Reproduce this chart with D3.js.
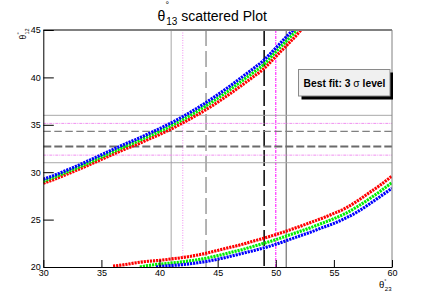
<!DOCTYPE html>
<html><head><meta charset="utf-8">
<script src="https://cdn.jsdelivr.net/npm/d3@7"></script>
<style>body{margin:0;background:#fff}svg{display:block;font-family:"Liberation Sans",Arial,Helvetica,sans-serif}</style>
</head><body><svg id="c" width="436" height="297"></svg>
<script>
// ---- data ----
const xTicks = [30,35,40,45,50,55,60];
const yTicks = [20,25,30,35,40,45];
const vLines = [41,42,44,49,50,50.9];
const hLines = [36,35.15,34.3,32.7,31.8,31];

const upperRed = [[30,28.82],[31,29.27],[32,29.77],[33,30.27],[34,30.8],[35,31.35],[36,31.88],[37,32.42],[38,32.9],[39,33.44],[40,33.98],[41,34.56],[42,35.2],[43,35.88],[44,36.6],[45,37.38],[46,38.22],[47,39.1],[48,40.0],[49,40.95],[50,42.2],[51,43.45],[52,44.75],[52.3,45.2]];
const upperGreen = [[30,29.05],[31,29.5],[32,30.0],[33,30.5],[34,31.05],[35,31.6],[36,32.15],[37,32.7],[38,33.2],[39,33.75],[40,34.3],[41,34.9],[42,35.55],[43,36.25],[44,37.0],[45,37.8],[46,38.65],[47,39.55],[48,40.45],[49,41.4],[50,42.7],[51,43.95],[51.9,45.1]];
const upperBlue = [[30,29.25],[31,29.7],[32,30.2],[33,30.72],[34,31.28],[35,31.84],[36,32.4],[37,32.96],[38,33.47],[39,34.03],[40,34.6],[41,35.2],[42,35.87],[43,36.58],[44,37.35],[45,38.17],[46,39.03],[47,39.95],[48,40.87],[49,41.85],[50,43.1],[51,44.4],[51.6,45.1]];

const lowerRed = [[36,20.1],[37,20.25],[38,20.45],[39,20.6],[40,20.7],[41,20.85],[42,21.0],[43,21.2],[44,21.45],[45,21.75],[46,22.05],[47,22.35],[48,22.7],[49,23.05],[50,23.42],[51,23.82],[52,24.25],[53,24.7],[54,25.15],[55,25.65],[56,26.2],[57,26.95],[58,27.8],[59,28.65],[60,29.6]];
const lowerGreen = [[38.3,20.0],[39,20.15],[40,20.3],[41,20.42],[42,20.55],[43,20.72],[44,20.92],[45,21.2],[46,21.5],[47,21.8],[48,22.15],[49,22.5],[50,22.88],[51,23.3],[52,23.72],[53,24.15],[54,24.62],[55,25.1],[56,25.65],[57,26.35],[58,27.15],[59,28.0],[60,28.9]];
const lowerBlue = [[39.7,20.0],[40,20.05],[41,20.15],[42,20.25],[43,20.4],[44,20.58],[45,20.82],[46,21.1],[47,21.4],[48,21.7],[49,22.02],[50,22.4],[51,22.82],[52,23.25],[53,23.68],[54,24.15],[55,24.6],[56,25.15],[57,25.8],[58,26.6],[59,27.45],[60,28.3]];

// ---- drawing ----
const svg = d3.select("#c");
const L = 43.3, R = 392, T = 30, B = 267;
const x = d3.scaleLinear([30,60],[L,R]);
const y = d3.scaleLinear([20,45],[B,T]);

svg.append("defs").append("clipPath").attr("id","fr")
  .append("rect").attr("x",L).attr("y",T).attr("width",R-L).attr("height",B-T);

const g = svg.append("g").attr("clip-path","url(#fr)");

// reference lines
const vStyle = [
  {c:"#a8a8a8",w:1,d:null},
  {c:"#f090f0",w:1,d:"1,1.5"},
  {c:"#808080",w:1.2,d:"16,5"},
  {c:"#000",w:1.5,d:"16,4"},
  {c:"#ff30ff",w:1.2,d:"3,1,1,1"},
  {c:"#707070",w:1.2,d:null}
];
const hStyle = [
  {c:"#a8a8a8",w:1,d:null},
  {c:"#f090f0",w:1,d:"3,1,1,1"},
  {c:"#808080",w:1.2,d:"7.5,3.5"},
  {c:"#6a6a6a",w:2,d:"8,3"},
  {c:"#f090f0",w:1,d:"3,1,1,1"},
  {c:"#a8a8a8",w:1,d:null}
];
vLines.forEach((v,i)=>{
  g.append("line").attr("x1",x(v)).attr("x2",x(v)).attr("y1",T).attr("y2",B)
   .attr("stroke",vStyle[i].c).attr("stroke-width",vStyle[i].w).attr("stroke-dasharray",vStyle[i].d);
});
hLines.forEach((v,i)=>{
  g.append("line").attr("x1",L).attr("x2",R).attr("y1",y(v)).attr("y2",y(v))
   .attr("stroke",hStyle[i].c).attr("stroke-width",hStyle[i].w).attr("stroke-dasharray",hStyle[i].d);
});

// bands
const line = d3.line().x(d=>x(d[0])).y(d=>y(d[1])).curve(d3.curveMonotoneX);
const series = [
  [upperRed,"#ff0000"],[upperGreen,"#00ee00"],[upperBlue,"#0000ff"],
  [lowerRed,"#ff0000"],[lowerGreen,"#00ee00"],[lowerBlue,"#0000ff"]
];
series.forEach(([d,c])=>{
  g.append("path").attr("d",line(d)).attr("fill","none").attr("stroke",c)
   .attr("stroke-width",3.1).attr("stroke-dasharray","2.2,0.9");
});

// frame top/right
svg.append("line").attr("x1",L).attr("x2",R).attr("y1",T).attr("y2",T).attr("stroke","#808080").attr("stroke-width",2);
svg.append("line").attr("x1",R).attr("x2",R).attr("y1",T).attr("y2",B).attr("stroke","#808080").attr("stroke-width",1);

// axes
const minorX = d3.range(30,61,1), minorY = d3.range(20,46,1);
const xAx = svg.append("g").attr("transform",`translate(0,${B})`);
xAx.call(d3.axisBottom(x).tickValues(minorX).tickSize(-3.5).tickSizeOuter(0).tickFormat(""));
xAx.call(d3.axisBottom(x).tickValues(xTicks).tickSize(-7).tickSizeOuter(0).tickPadding(3).tickFormat(d3.format("d")));
const yAx = svg.append("g").attr("transform",`translate(${L},0)`);
yAx.call(d3.axisLeft(y).tickValues(minorY).tickSize(-5.2).tickSizeOuter(0).tickFormat(""));
yAx.call(d3.axisLeft(y).tickValues(yTicks).tickSize(-10.5).tickSizeOuter(0).tickPadding(2.5).tickFormat(d3.format("d")));
svg.selectAll(".tick text").attr("font-size",9).attr("font-family","Liberation Sans, Arial, sans-serif").attr("fill","#000");
svg.selectAll(".domain").attr("stroke","#000");

// title
const t = svg.append("text").attr("font-size",14).attr("fill","#000");
t.append("tspan").attr("x",157.5).attr("y",20.5).text("θ");
t.append("tspan").attr("x",165.6).attr("y",8.3).attr("font-size",9).text("°");
t.append("tspan").attr("x",166.2).attr("y",24.8).attr("font-size",10).text("13");
t.append("tspan").attr("y",20.5).text(" scattered Plot");

// x title
const xt = svg.append("text").attr("font-size",9.5);
xt.append("tspan").attr("x",379).attr("y",287.5).text("θ");
xt.append("tspan").attr("x",384.3).attr("y",282.5).attr("font-size",5.5).text("°");
xt.append("tspan").attr("x",384.8).attr("y",290.5).attr("font-size",6).text("23");

// y title (rotated; local u runs upward)
const yt = svg.append("text").attr("transform","translate(26,39.5) rotate(-90)").attr("font-size",8.5);
yt.append("tspan").attr("x",0).attr("y",0).text("θ");
yt.append("tspan").attr("x",4.9).attr("y",-5.5).attr("font-size",6).text("°");
yt.append("tspan").attr("x",4.9).attr("y",2.6).attr("font-size",5.5).text("12");

// legend
svg.append("rect").attr("x",301.5).attr("y",72.5).attr("width",91.5).attr("height",27).attr("fill","#000");
svg.append("rect").attr("x",298.5).attr("y",69.5).attr("width",91.5).attr("height",26.5).attr("fill","#f0f0f0").attr("stroke","#8a8a8a").attr("stroke-width",1);
const lt = svg.append("text").attr("x",344.5).attr("y",86.5).attr("text-anchor","middle").attr("font-size",10.3).attr("font-weight","bold");
lt.append("tspan").text("Best fit: 3  ");
lt.append("tspan").attr("font-weight","normal").text("σ");
lt.append("tspan").text(" level");
</script></body></html>
